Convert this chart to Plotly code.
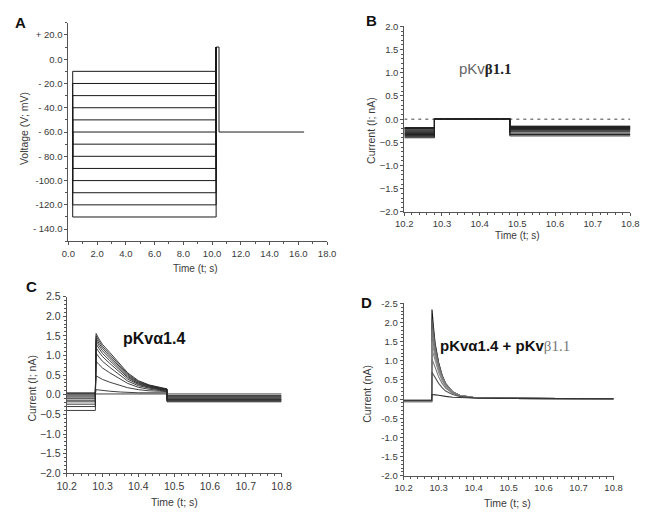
import plotly.graph_objects as go

# ---------------- data ----------------
# Panel A: voltage protocol
a_levels = [-130, -120, -110, -100, -90, -80, -70, -60, -50, -40, -30, -20, -10]
a_times = [0.3, 10.28, 10.48, 16.4]      # step start, test start, test end, sweep end
a_hold = -60
a_test = 10
a_yticks = [20, 0, -20, -40, -60, -80, -100, -120, -140]
a_yticktext = ["+ 20.0", "0.0", "- 20.0", "- 40.0", "- 60.0", "- 80.0", "-100.0", "-120.0", "- 140.0"]
a_xticks = [0, 2, 4, 6, 8, 10, 12, 14, 16, 18]
a_xticktext = ["0.0", "2.0", "4.0", "6.0", "8.0", "10.0", "12.0", "14.0", "16.0", "18.0"]

# Panel B: pKvbeta1.1 currents
b_times = [10.2, 10.28, 10.48, 10.8]
b_pre = [-0.40, -0.37, -0.35, -0.33, -0.31, -0.29, -0.27, -0.25, -0.23, -0.21, -0.20, -0.19, -0.18]
b_test = [0.01, 0.01, 0.01, 0.01, 0.01, 0.01, 0.01, 0.01, 0.01, 0.01, 0.01, 0.01, 0.01]
b_post = [-0.36, -0.33, -0.30, -0.27, -0.24, -0.22, -0.21, -0.20, -0.19, -0.18, -0.17, -0.16, -0.15]

# Panel C: pKvalpha1.4 currents
c_times = [10.2, 10.28, 10.48, 10.8]
c_pre = [-0.40, -0.30, -0.24, -0.18, -0.14, -0.10, -0.06, -0.03, 0.00, 0.03, 0.05]
c_test_t = [10.28, 10.282, 10.29, 10.30, 10.32, 10.35, 10.37, 10.40, 10.43, 10.46, 10.48]
c_test = [
    [0.05, 1.56, 1.42, 1.28, 1.08, 0.76, 0.56, 0.36, 0.25, 0.19, 0.15],
    [0.05, 1.50, 1.37, 1.23, 1.03, 0.72, 0.53, 0.34, 0.24, 0.18, 0.14],
    [0.05, 1.44, 1.31, 1.18, 0.98, 0.68, 0.50, 0.32, 0.23, 0.17, 0.14],
    [0.05, 1.38, 1.25, 1.12, 0.93, 0.64, 0.47, 0.30, 0.22, 0.16, 0.13],
    [0.05, 1.30, 1.18, 1.05, 0.87, 0.60, 0.44, 0.28, 0.20, 0.15, 0.13],
    [0.05, 1.20, 1.09, 0.97, 0.80, 0.55, 0.40, 0.26, 0.19, 0.14, 0.12],
    [0.04, 1.06, 0.96, 0.85, 0.70, 0.48, 0.35, 0.23, 0.17, 0.13, 0.11],
    [0.04, 0.85, 0.77, 0.68, 0.56, 0.39, 0.29, 0.19, 0.14, 0.11, 0.10],
    [0.03, 0.48, 0.44, 0.39, 0.32, 0.23, 0.18, 0.13, 0.10, 0.09, 0.08],
    [0.02, 0.13, 0.12, 0.11, 0.09, 0.07, 0.06, 0.05, 0.05, 0.05, 0.05],
    [0.02, 0.02, 0.02, 0.02, 0.02, 0.02, 0.02, 0.02, 0.02, 0.02, 0.02],
]
c_post = [-0.18, -0.16, -0.15, -0.13, -0.12, -0.10, -0.08, -0.06, -0.04, -0.02, 0.02]

# Panel D: pKvalpha1.4 + pKvbeta1.1 currents
d_times = [10.2, 10.28]
d_pre = [-0.07, -0.06, -0.06, -0.05, -0.05, -0.05, -0.04, -0.04, -0.03, -0.03]
d_test_t = [10.28, 10.281, 10.285, 10.29, 10.30, 10.31, 10.32, 10.34, 10.36, 10.40, 10.48, 10.8]
d_test = [
    [-0.05, 2.34, 1.90, 1.45, 0.95, 0.62, 0.40, 0.18, 0.09, 0.04, 0.02, 0.01],
    [-0.05, 2.10, 1.78, 1.40, 0.93, 0.62, 0.41, 0.19, 0.10, 0.04, 0.02, 0.01],
    [-0.05, 1.95, 1.68, 1.34, 0.90, 0.60, 0.40, 0.19, 0.10, 0.04, 0.02, 0.01],
    [-0.05, 1.80, 1.57, 1.27, 0.86, 0.58, 0.39, 0.19, 0.10, 0.04, 0.02, 0.01],
    [-0.05, 1.65, 1.45, 1.18, 0.82, 0.56, 0.38, 0.18, 0.10, 0.04, 0.02, 0.01],
    [-0.05, 1.50, 1.33, 1.10, 0.77, 0.53, 0.36, 0.18, 0.09, 0.04, 0.02, 0.01],
    [-0.05, 1.30, 1.17, 0.98, 0.70, 0.48, 0.33, 0.17, 0.09, 0.04, 0.02, 0.01],
    [-0.05, 1.05, 0.95, 0.80, 0.58, 0.41, 0.29, 0.15, 0.08, 0.04, 0.02, 0.01],
    [-0.04, 0.70, 0.64, 0.55, 0.41, 0.30, 0.21, 0.12, 0.07, 0.03, 0.02, 0.01],
    [-0.03, 0.12, 0.12, 0.11, 0.10, 0.08, 0.07, 0.05, 0.04, 0.03, 0.02, 0.01],
]
d_line_colors = ["#111", "#555", "#666", "#777", "#777", "#888", "#888", "#777", "#555", "#333"]

cur_xticks = [10.2, 10.3, 10.4, 10.5, 10.6, 10.7, 10.8]
cur_ticktext = ["10.2", "10.3", "10.4", "10.5", "10.6", "10.7", "10.8"]

# ---------------- figure ----------------
OFF = 8                      # default body margin of the page
W, H = 652 - OFF, 522 - OFF
fig = go.Figure()

def px_x(p):
    return (p - OFF) / W

def px_y(p):
    return 1 - (p - OFF) / H

LINE = dict(color="#1a1a1a", width=1)

# Panel A traces: conditioning steps
t0, t1, t2, t3 = a_times
for lv in a_levels:
    fig.add_trace(go.Scatter(
        x=[t0, t0, t1, t1],
        y=[a_hold, lv, lv, a_test],
        mode="lines", line=LINE, xaxis="x", yaxis="y", showlegend=False, hoverinfo="skip"))
# test pulse and return to holding
fig.add_trace(go.Scatter(
    x=[t1, t2, t2, t3], y=[a_test, a_test, a_hold, a_hold],
    mode="lines", line=LINE, xaxis="x", yaxis="y", showlegend=False, hoverinfo="skip"))

# Panel B traces
bt0, bt1, bt2, bt3 = b_times
fig.add_trace(go.Scatter(x=[bt0, bt3], y=[0, 0], mode="lines",
                         line=dict(color="#444", width=1, dash="3px,4px"),
                         xaxis="x2", yaxis="y2", showlegend=False, hoverinfo="skip"))
for pre, tst, post in zip(b_pre, b_test, b_post):
    fig.add_trace(go.Scatter(
        x=[bt0, bt1, bt1, bt2, bt2, bt3],
        y=[pre, pre, tst, tst, post, post],
        mode="lines", line=dict(color="#222", width=1),
        xaxis="x2", yaxis="y2", showlegend=False, hoverinfo="skip"))

# Panel C traces
ct0, ct1, ct2, ct3 = c_times
for pre, tst, post in zip(c_pre, c_test, c_post):
    fig.add_trace(go.Scatter(
        x=[ct0, ct1] + c_test_t + [ct2, ct3],
        y=[pre, pre] + tst + [post, post],
        mode="lines", line=dict(color="#2a2a2a", width=0.9),
        xaxis="x3", yaxis="y3", showlegend=False, hoverinfo="skip"))

# Panel D traces
dt0, dt1 = d_times
for pre, tst, col in zip(d_pre, d_test, d_line_colors):
    fig.add_trace(go.Scatter(
        x=[dt0, dt1] + d_test_t,
        y=[pre, pre] + tst,
        mode="lines", line=dict(color=col, width=1.1),
        xaxis="x4", yaxis="y4", showlegend=False, hoverinfo="skip"))

FONT = "Liberation Sans, Arial, sans-serif"
TXT = "#3a3a3a"
AX = "#555"

def axis_common(**kw):
    d = dict(showline=True, linecolor=AX, linewidth=1, ticks="outside", ticklen=3,
             tickcolor=AX, tickwidth=1, showgrid=False, zeroline=False,
             tickfont=dict(family=FONT, size=9.5, color=TXT), fixedrange=True)
    d.update(kw)
    return d

# domains from pixel positions in the reference
A_x = [px_x(60), px_x(327)]
A_y = [px_y(240.7), px_y(17)]
B_x = [px_x(406.7), px_x(640)]
B_y = [px_y(210.7), px_y(20.7)]
C_x = [px_x(58.3), px_x(280)]
C_y = [px_y(478.3), px_y(297.3)]
D_x = [px_x(406), px_x(622.7)]
D_y = [px_y(480.7), px_y(304.3)]

fig.update_layout(
    width=W, height=H, margin=dict(l=0, r=0, t=0, b=0),
    paper_bgcolor="white", plot_bgcolor="white",
    font=dict(family=FONT, color=TXT),
    xaxis=axis_common(domain=A_x, anchor="y", range=[0, 18], tickvals=a_xticks, ticktext=a_xticktext,
                      minor=dict(ticks="outside", ticklen=2, dtick=1, tickcolor=AX)),
    yaxis=axis_common(domain=A_y, anchor="x", range=[-150, 30], tickvals=a_yticks, ticktext=a_yticktext,
                      minor=dict(ticks="outside", ticklen=2, dtick=10, tick0=0, tickcolor=AX)),
    xaxis2=axis_common(domain=B_x, anchor="y2", range=[10.2, 10.8], tickvals=cur_xticks, ticktext=cur_ticktext,
                       minor=dict(ticks="outside", ticklen=2, dtick=0.02, tick0=10.2, tickcolor=AX)),
    yaxis2=axis_common(domain=B_y, anchor="x2", range=[-2, 2], dtick=0.5, tickformat=".1f",
                       minor=dict(ticks="outside", ticklen=2, dtick=0.1, tick0=0, tickcolor=AX)),
    xaxis3=axis_common(domain=C_x, anchor="y3", range=[10.2, 10.8], tickvals=cur_xticks, ticktext=cur_ticktext,
                       tickfont=dict(family=FONT, size=10.5, color=TXT),
                       minor=dict(ticks="outside", ticklen=2, dtick=0.02, tick0=10.2, tickcolor=AX)),
    yaxis3=axis_common(domain=C_y, anchor="x3", range=[-2, 2.5], dtick=0.5, tickformat=".1f",
                       tickfont=dict(family=FONT, size=10.5, color=TXT),
                       minor=dict(ticks="outside", ticklen=2, dtick=0.1, tick0=0, tickcolor=AX)),
    xaxis4=axis_common(domain=D_x, anchor="y4", range=[10.2, 10.8], tickvals=cur_xticks, ticktext=cur_ticktext,
                       minor=dict(ticks="outside", ticklen=2, dtick=0.02, tick0=10.2, tickcolor=AX)),
    yaxis4=axis_common(domain=D_y, anchor="x4", range=[-2, 2.5],
                       tickvals=[2.5, 2.0, 1.5, 1.0, 0.5, 0.0, -0.5, -1.0, -1.5, -2.0],
                       ticktext=["-2.5", "2.0", "1.5", "1.0", "0.5", "0.0", "-0.5", "-1.0", "-1.5", "-2.0"],
                       minor=dict(ticks="outside", ticklen=2, dtick=0.1, tick0=0, tickcolor=AX)),
)

def ann(text, x, y, size=10, color=TXT, angle=0, bold=False, family=FONT):
    fig.add_annotation(text=("<b>%s</b>" % text) if bold else text,
                       x=px_x(x), y=px_y(y), xref="paper", yref="paper",
                       xanchor="center", yanchor="middle", showarrow=False, textangle=angle,
                       font=dict(family=family, size=size, color=color))

# panel letters
ann("A", 11, 17, size=15, color="#111", bold=True)
ann("B", 373, 15, size=15, color="#111", bold=True)
ann("C", 22, 287, size=15, color="#111", bold=True)
ann("D", 368, 303, size=15, color="#111", bold=True)

# axis titles
ann("Time (t; s)", 191, 269, size=10)
ann("Voltage (V; mV)", 14, 125, size=10.5, angle=-90)
ann("Time (t; s)", 523, 235, size=10)
ann("Current (I; nA)", 373, 127, size=10.5, angle=-90)
ann("Time (t; s)", 170, 508, size=10.5)
ann("Current (I; nA)", 22, 391, size=10.5, angle=-90)
ann("Time (t; s)", 513, 509, size=10.5)
ann("Current (nA)", 368, 397, size=10.5, angle=-90)

# construct labels
ann('pKv<b><span style="font-family:Liberation Serif, serif;color:#222">β1.1</span></b>', 490, 64, size=15, color="#666")
ann("pKvα1.4", 148, 340, size=16, color="#111", bold=True)
ann('<b>pKvα1.4 + pKv</b><span style="font-family:Liberation Serif, serif;color:#777">β1.1</span>',
    511, 347, size=15, color="#111")

fig.write_html("out.html")
